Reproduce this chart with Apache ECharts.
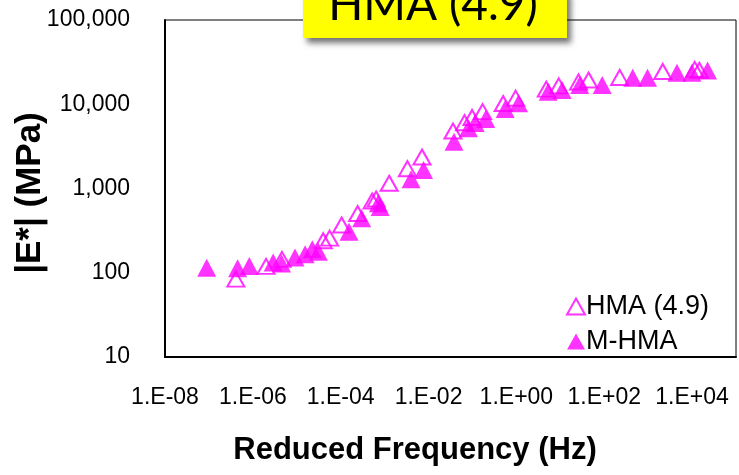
<!DOCTYPE html>
<html>
<head>
<meta charset="utf-8">
<script src="https://cdn.jsdelivr.net/npm/echarts@6/dist/echarts.min.js"></script>
<style>html,body{margin:0;padding:0;background:#fff}#c{width:739px;height:475px}</style>
</head>
<body>
<div id="c"></div>
<script>
// Reduced frequency (Hz) and |E*| (MPa)
const hmaFreq = [4.1e-7, 2.0e-6, 4.6e-6, 4.0e-5, 5.6e-5, 1.05e-4, 2.43e-4, 5.2e-4, 6.4e-4, 1.27e-3, 3.3e-3, 7.1e-3, 0.036, 0.066, 0.098, 0.17, 0.50, 0.96, 4.8, 9.2, 26, 44, 225, 2150, 11500, 14600];
const hmaE    = [84, 119, 144, 240, 258, 369, 505, 711, 750, 1153, 1718, 2366, 4810, 6040, 6970, 8170, 10210, 11800, 15100, 16500, 18400, 19400, 20800, 24500, 25900, 25300];
const mhmaFreq = [8.9e-8, 4.5e-7, 8.3e-7, 2.9e-6, 4.5e-6, 9.1e-6, 1.55e-5, 2.26e-5, 3.1e-5, 1.55e-4, 3.0e-4, 7.2e-4, 7.9e-4, 4.0e-3, 7.7e-3, 0.038, 0.081, 0.115, 0.20, 0.556, 1.12, 5.3, 11.0, 27.7, 90, 446, 968, 4530, 9950, 22500];
const mhmaE    = [115, 113, 120, 132, 129, 152, 166, 190, 178, 307, 443, 667, 603, 1285, 1660, 3600, 5190, 5980, 6680, 8790, 10250, 14100, 14760, 16900, 16900, 20650, 20650, 23700, 23700, 25200];
const seriesNames = ['HMA (4.9)', 'M-HMA'];
const xTitle = 'Reduced Frequency (Hz)';
const yTitle = '|E*| (MPa)';
const boxTitle = 'HMA (4.9)';

const pairs = (xs, ys) => xs.map((x, i) => [x, ys[i]]);
const font = '"Liberation Sans", Arial, sans-serif';
const chart = echarts.init(document.getElementById('c'));
chart.setOption({
  animation: false,
  grid: { left: 165, right: 3, top: 20, bottom: 118, show: true, borderColor: '#000', borderWidth: 1 },
  legend: {
    orient: 'vertical', left: 561, top: 288, itemWidth: 18, itemHeight: 16, itemGap: 8,
    textStyle: { fontFamily: font, fontSize: 27, color: '#000', padding: [0,0,0,-4] },
    data: seriesNames
  },
  xAxis: {
    type: 'log', logBase: 10, min: 1e-8, max: 1e5, interval: 2,
    axisLine: { lineStyle: { color: '#000', width: 2 } },
    axisTick: { show: false }, splitLine: { show: false },
    axisLabel: {
      margin: 29, fontFamily: font, fontSize: 23, color: '#000',
      formatter: v => {
        const e = Math.round(Math.log10(v));
        if (e % 2 !== 0 || e > 4) return '';
        return '1.E' + (e < 0 ? '-' : '+') + String(Math.abs(e)).padStart(2, '0');
      }
    }
  },
  yAxis: {
    type: 'log', logBase: 10, min: 10, max: 100000,
    axisLine: { lineStyle: { color: '#000', width: 2 } },
    axisTick: { show: false }, splitLine: { show: false },
    axisLabel: {
      margin: 35, fontFamily: font, fontSize: 23, color: '#000',
      formatter: v => Math.round(v).toLocaleString('en-US')
    }
  },
  series: [
    { name: seriesNames[0], type: 'scatter', symbol: 'triangle', symbolSize: [17, 15],
      itemStyle: { color: 'rgba(255,255,255,0)', borderColor: '#ff00ff', borderWidth: 2 },
      data: pairs(hmaFreq, hmaE) },
    { name: seriesNames[1], type: 'scatter', symbol: 'triangle', symbolSize: [19, 18],
      itemStyle: { color: '#ff00ff' },
      data: pairs(mhmaFreq, mhmaE) }
  ],
  graphic: [
    { type: 'rect', shape: { x: 303, y: -10, width: 264, height: 48 },
      style: { fill: '#ffff00', shadowBlur: 6, shadowOffsetX: 4, shadowOffsetY: 5, shadowColor: 'rgba(0,0,0,0.55)' }, z: 100 },
    { type: 'text', x: 433, y: 28, z: 101,
      style: { text: boxTitle, fontFamily: 'Lato, "Open Sans", sans-serif', fontSize: 46, fill: '#000', align: 'center', verticalAlign: 'bottom' } },
    { type: 'text', x: 415, y: 450, z: 101,
      style: { text: xTitle, fontFamily: font, fontWeight: 'bold', fontSize: 31, fill: '#000', align: 'center', verticalAlign: 'middle' } },
    { type: 'text', x: 30, y: 193, rotation: Math.PI / 2, z: 101,
      style: { text: yTitle, fontFamily: font, fontWeight: 'bold', fontSize: 35, fill: '#000', align: 'center', verticalAlign: 'middle' } }
  ]
});
</script>
</body>
</html>
